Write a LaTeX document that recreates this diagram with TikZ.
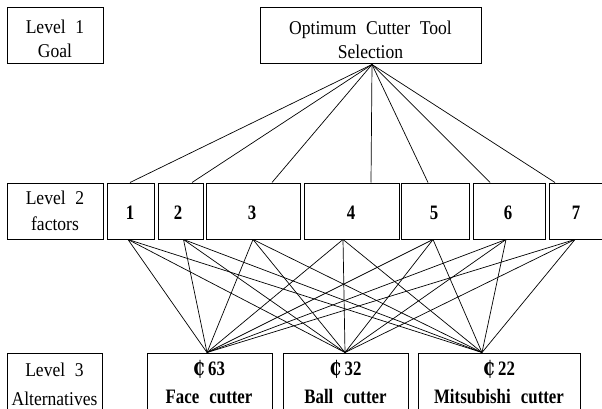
\documentclass[tikz,border=0pt]{standalone}
\usepackage{fontspec}
\setmainfont[FakeStretch=0.9]{Liberation Serif}
\newfontfamily\boldfam[FakeStretch=0.82]{Liberation Serif}
\newfontfamily\cedifont[FakeStretch=0.85]{DejaVu Serif}
\newcommand{\cedisign}{{\cedifont\bfseries\fontsize{20}{20}\selectfont ₵}}
\newcommand{\ws}{\hspace{0.5em}}
\begin{document}
\begin{tikzpicture}[x=1pt,y=-1pt,
  box/.style={draw, line width=1pt, inner sep=0pt, minimum height=56pt},
  lbl/.style={font=\fontsize{19.5}{24}\selectfont, align=center, inner sep=0pt},
  num/.style={font=\boldfam\fontsize{20.5}{24}\bfseries\selectfont, inner sep=0pt, anchor=base},
  alt/.style={font=\boldfam\fontsize{20.5}{28}\bfseries\selectfont, align=center, inner sep=0pt},
  link/.style={line width=0.7pt}]
\useasboundingbox (0,0) rectangle (602,409);
\clip (0,0) rectangle (602,409);
% Level 1
\node[box, minimum width=96pt] (l1) at (55,36) {};
\node[lbl] (l1t) at (55,38.5) {Level\ws 1\\Goal};
\node[box, minimum width=221pt] (goal) at (370.5,36) {};
\node[lbl] (goalt) at (370.5,39.5) {Optimum\ws Cutter\ws Tool\\Selection};
% Level 2
\node[box, minimum width=96pt] (l2) at (55,211) {};
\node[lbl, font=\fontsize{19.5}{26}\selectfont] (l2t) at (55,210.5) {Level\ws 2\\factors};
\node[box, minimum width=47pt] (f1) at (130.5,211) {};
\node[box, minimum width=45pt] (f2) at (180.5,211) {};
\node[box, minimum width=94pt] (f3) at (253,211) {};
\node[box, minimum width=95pt] (f4) at (351.5,211) {};
\node[box, minimum width=68pt] (f5) at (435,211) {};
\node[box, minimum width=72pt] (f6) at (509,211) {};
\node[box, minimum width=57pt] (f7) at (577.5,211) {};
\node[num] (n1) at (130,219) {1};
\node[num] (n2) at (178,219) {2};
\node[num] (n3) at (252,219) {3};
\node[num] (n4) at (351,219) {4};
\node[num] (n5) at (434,219) {5};
\node[num] (n6) at (508,219) {6};
\node[num] (n7) at (576,219) {7};
% Level 3
\node[box, minimum width=95pt, minimum height=72pt] (l3) at (54.5,389) {};
\node[lbl, font=\fontsize{19.5}{29}\selectfont] (l3t) at (54.5,384.5) {Level\ws 3\\Alternatives};
\node[box, minimum width=125pt, minimum height=72pt] (a1) at (209.5,389) {};
\node[box, minimum width=125pt, minimum height=72pt] (a2) at (345.5,389) {};
\node[box, minimum width=162pt, minimum height=72pt] (a3) at (499,389) {};
\node[alt] (a1t) at (209,382.5) {\cedisign\,63\\Face\ws cutter};
\node[alt] (a2t) at (345.5,382.5) {\cedisign\,32\\Ball\ws cutter};
\node[alt] (a3t) at (499,382.5) {\cedisign\,22\\Mitsubishi\ws cutter};
% goal to factors
\foreach \i/\dx in {1/-0.5, 2/11.5, 3/19, 4/19.5, 5/-7, 6/-19, 7/-22.5}
  \draw[link] ([xshift=1.5pt]goal.south) -- ([xshift=\dx pt]f\i.north);
% factors to alternatives
\foreach \i/\dx in {1/-2.5, 2/3, 3/0, 4/-8.5, 5/-2, 6/-3, 7/-2.5}
  \foreach \j/\dy in {1/-2.5, 2/-0.5, 3/-17}
    \draw[link] ([xshift=\dx pt]f\i.south) -- ([xshift=\dy pt]a\j.north);
\end{tikzpicture}
\end{document}
